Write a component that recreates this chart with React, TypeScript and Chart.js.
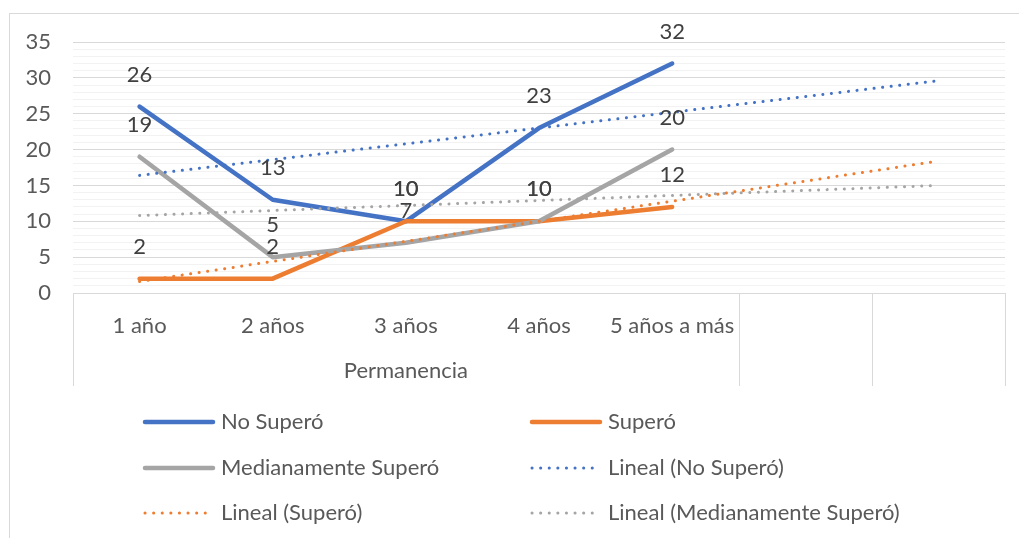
import React, { useEffect, useRef } from 'react';
import { Chart, registerables } from 'chart.js';
Chart.register(...registerables);

const categories = ['1 año', '2 años', '3 años', '4 años', '5 años a más', '', ''];
const groupLabel = 'Permanencia';
const groupSpan = 5;
const noSupero = [26, 13, 10, 23, 32, null, null];
const supero = [2, 2, 10, 10, 12, null, null];
const medianamente = [19, 5, 7, 10, 20, null, null];
const trendNoSupero = [16.4, 18.6, 20.8, 23.0, 25.2, 27.4, 29.6];
const trendSupero = [1.6, 4.4, 7.2, 10.0, 12.8, 15.6, 18.4];
const trendMedianamente = [10.8, 11.5, 12.2, 12.9, 13.6, 14.3, 15.0];
const yMin = 0;
const yMax = 35;
const yMajorStep = 5;
const yMinorStep = 1;

const BLUE = '#4472C4';
const ORANGE = '#ED7D31';
const GRAY = '#A5A5A5';
const TEXT = '#595959';
const LABEL = '#404040';
const FONT = 'Lato, "Open Sans", sans-serif';
const FS = 22;

const legendItems = [
  { text: 'No Superó', color: BLUE, dotted: false, col: 0, row: 0 },
  { text: 'Superó', color: ORANGE, dotted: false, col: 1, row: 0 },
  { text: 'Medianamente Superó', color: GRAY, dotted: false, col: 0, row: 1 },
  { text: 'Lineal (No Superó)', color: BLUE, dotted: true, col: 1, row: 1 },
  { text: 'Lineal (Superó)', color: ORANGE, dotted: true, col: 0, row: 2 },
  { text: 'Lineal (Medianamente Superó)', color: GRAY, dotted: true, col: 1, row: 2 },
];

export default function App() {
  const ref = useRef<HTMLCanvasElement | null>(null);
  useEffect(() => {
    if (!ref.current) return;
    const mainLine = (label: string, data: (number | null)[], color: string, order: number) => ({
      label, data, borderColor: color, backgroundColor: color, borderWidth: 4.5,
      pointRadius: 0, tension: 0, borderCapStyle: 'round', borderJoinStyle: 'round', order, fill: false,
    });
    const trendLine = (label: string, data: number[], color: string) => ({
      label, data, borderColor: color, backgroundColor: color, borderWidth: 3,
      pointRadius: 0, tension: 0, borderCapStyle: 'round', borderDash: [0.1, 8.5], order: 0, fill: false,
    });

    const decor = {
      id: 'decor',
      beforeDraw(chart: any) {
        const ctx = chart.ctx;
        ctx.save();
        ctx.fillStyle = '#ffffff';
        ctx.fillRect(0, 0, chart.width, chart.height);
        ctx.strokeStyle = '#d9d9d9';
        ctx.lineWidth = 1;
        ctx.strokeRect(9.5, 13.5, chart.width + 20, chart.height + 20);
        ctx.restore();
      },
      afterDraw(chart: any) {
        const ctx = chart.ctx;
        const xs = chart.scales.x;
        const n = categories.length;
        const half = (xs.getPixelForValue(1) - xs.getPixelForValue(0)) / 2;
        ctx.save();
        // multi-level separators
        ctx.strokeStyle = '#d9d9d9';
        ctx.lineWidth = 1;
        const seps = [-1];
        for (let i = groupSpan - 1; i < n; i++) seps.push(i);
        seps.forEach((i) => {
          const px = Math.round(xs.getPixelForValue(i) + half) + 0.5;
          ctx.beginPath();
          ctx.moveTo(px, xs.top);
          ctx.lineTo(px, xs.bottom);
          ctx.stroke();
        });
        // group label
        ctx.fillStyle = TEXT;
        ctx.font = `${FS}px ${FONT}`;
        ctx.textAlign = 'center';
        ctx.textBaseline = 'middle';
        const gx = (xs.getPixelForValue(0) - half + xs.getPixelForValue(groupSpan - 1) + half) / 2;
        ctx.fillText(groupLabel, gx, xs.top + 78);
        // data labels
        ctx.fillStyle = LABEL;
        [0, 1, 2].forEach((di) => {
          const meta = chart.getDatasetMeta(di);
          const ds = chart.data.datasets[di];
          meta.data.forEach((pt: any, i: number) => {
            const v = ds.data[i];
            if (v === null || v === undefined) return;
            ctx.fillText(String(v), pt.x, pt.y - 32);
          });
        });
        // legend
        const colX = [143, 530];
        const rowY = [422, 468, 513];
        ctx.textAlign = 'left';
        ctx.fillStyle = TEXT;
        legendItems.forEach((it) => {
          const x0 = colX[it.col];
          const y = rowY[it.row];
          ctx.save();
          ctx.strokeStyle = it.color;
          ctx.lineCap = 'round';
          if (it.dotted) {
            ctx.lineWidth = 3;
            ctx.setLineDash([0.1, 8.5]);
            ctx.beginPath();
            ctx.moveTo(x0 + 2, y);
            ctx.lineTo(x0 + 65, y);
            ctx.stroke();
          } else {
            ctx.lineWidth = 4.5;
            ctx.beginPath();
            ctx.moveTo(x0 + 2, y);
            ctx.lineTo(x0 + 70, y);
            ctx.stroke();
          }
          ctx.restore();
          ctx.fillStyle = TEXT;
          ctx.font = `${FS}px ${FONT}`;
          ctx.fillText(it.text, x0 + 78, y);
        });
        ctx.restore();
      },
    };

    const chart = new Chart(ref.current, {
      type: 'line',
      data: {
        labels: categories,
        datasets: [
          mainLine('No Superó', noSupero, BLUE, 3),
          mainLine('Superó', supero, ORANGE, 2),
          mainLine('Medianamente Superó', medianamente, GRAY, 1),
          trendLine('Lineal (No Superó)', trendNoSupero, BLUE),
          trendLine('Lineal (Superó)', trendSupero, ORANGE),
          trendLine('Lineal (Medianamente Superó)', trendMedianamente, GRAY),
        ] as any,
      },
      options: {
        responsive: false,
        animation: false,
        layout: { padding: { left: 0, top: 42, right: 14, bottom: 152 } },
        plugins: { legend: { display: false }, tooltip: { enabled: false } },
        scales: {
          x: {
            offset: true,
            grid: { display: false },
            border: { display: true, color: '#d9d9d9', width: 1 },
            ticks: { font: { family: FONT, size: FS }, color: TEXT, padding: 12, autoSkip: false, maxRotation: 0 },
            afterFit: (s: any) => { s.height = 93; },
          },
          y: {
            min: yMin,
            max: yMax,
            ticks: {
              stepSize: yMinorStep,
              autoSkip: false,
              padding: 22,
              font: { family: FONT, size: FS },
              color: TEXT,
              callback: (v: any) => (Number(v) % yMajorStep === 0 ? String(v) : ''),
            },
            grid: {
              drawTicks: false,
              lineWidth: 1,
              color: (c: any) => (c.tick && c.tick.value % yMajorStep === 0 ? '#d9d9d9' : '#f2f2f2'),
            },
            border: { display: false },
            afterFit: (s: any) => { s.width = 73; },
          },
        },
      } as any,
      plugins: [decor],
    });
    return () => chart.destroy();
  }, []);
  return (
    <div style={{ position: 'fixed', left: 0, top: 0, width: 1019, height: 538, background: '#fff' }}>
      <canvas ref={ref} width={1019} height={538} style={{ display: 'block' }} />
    </div>
  );
}
